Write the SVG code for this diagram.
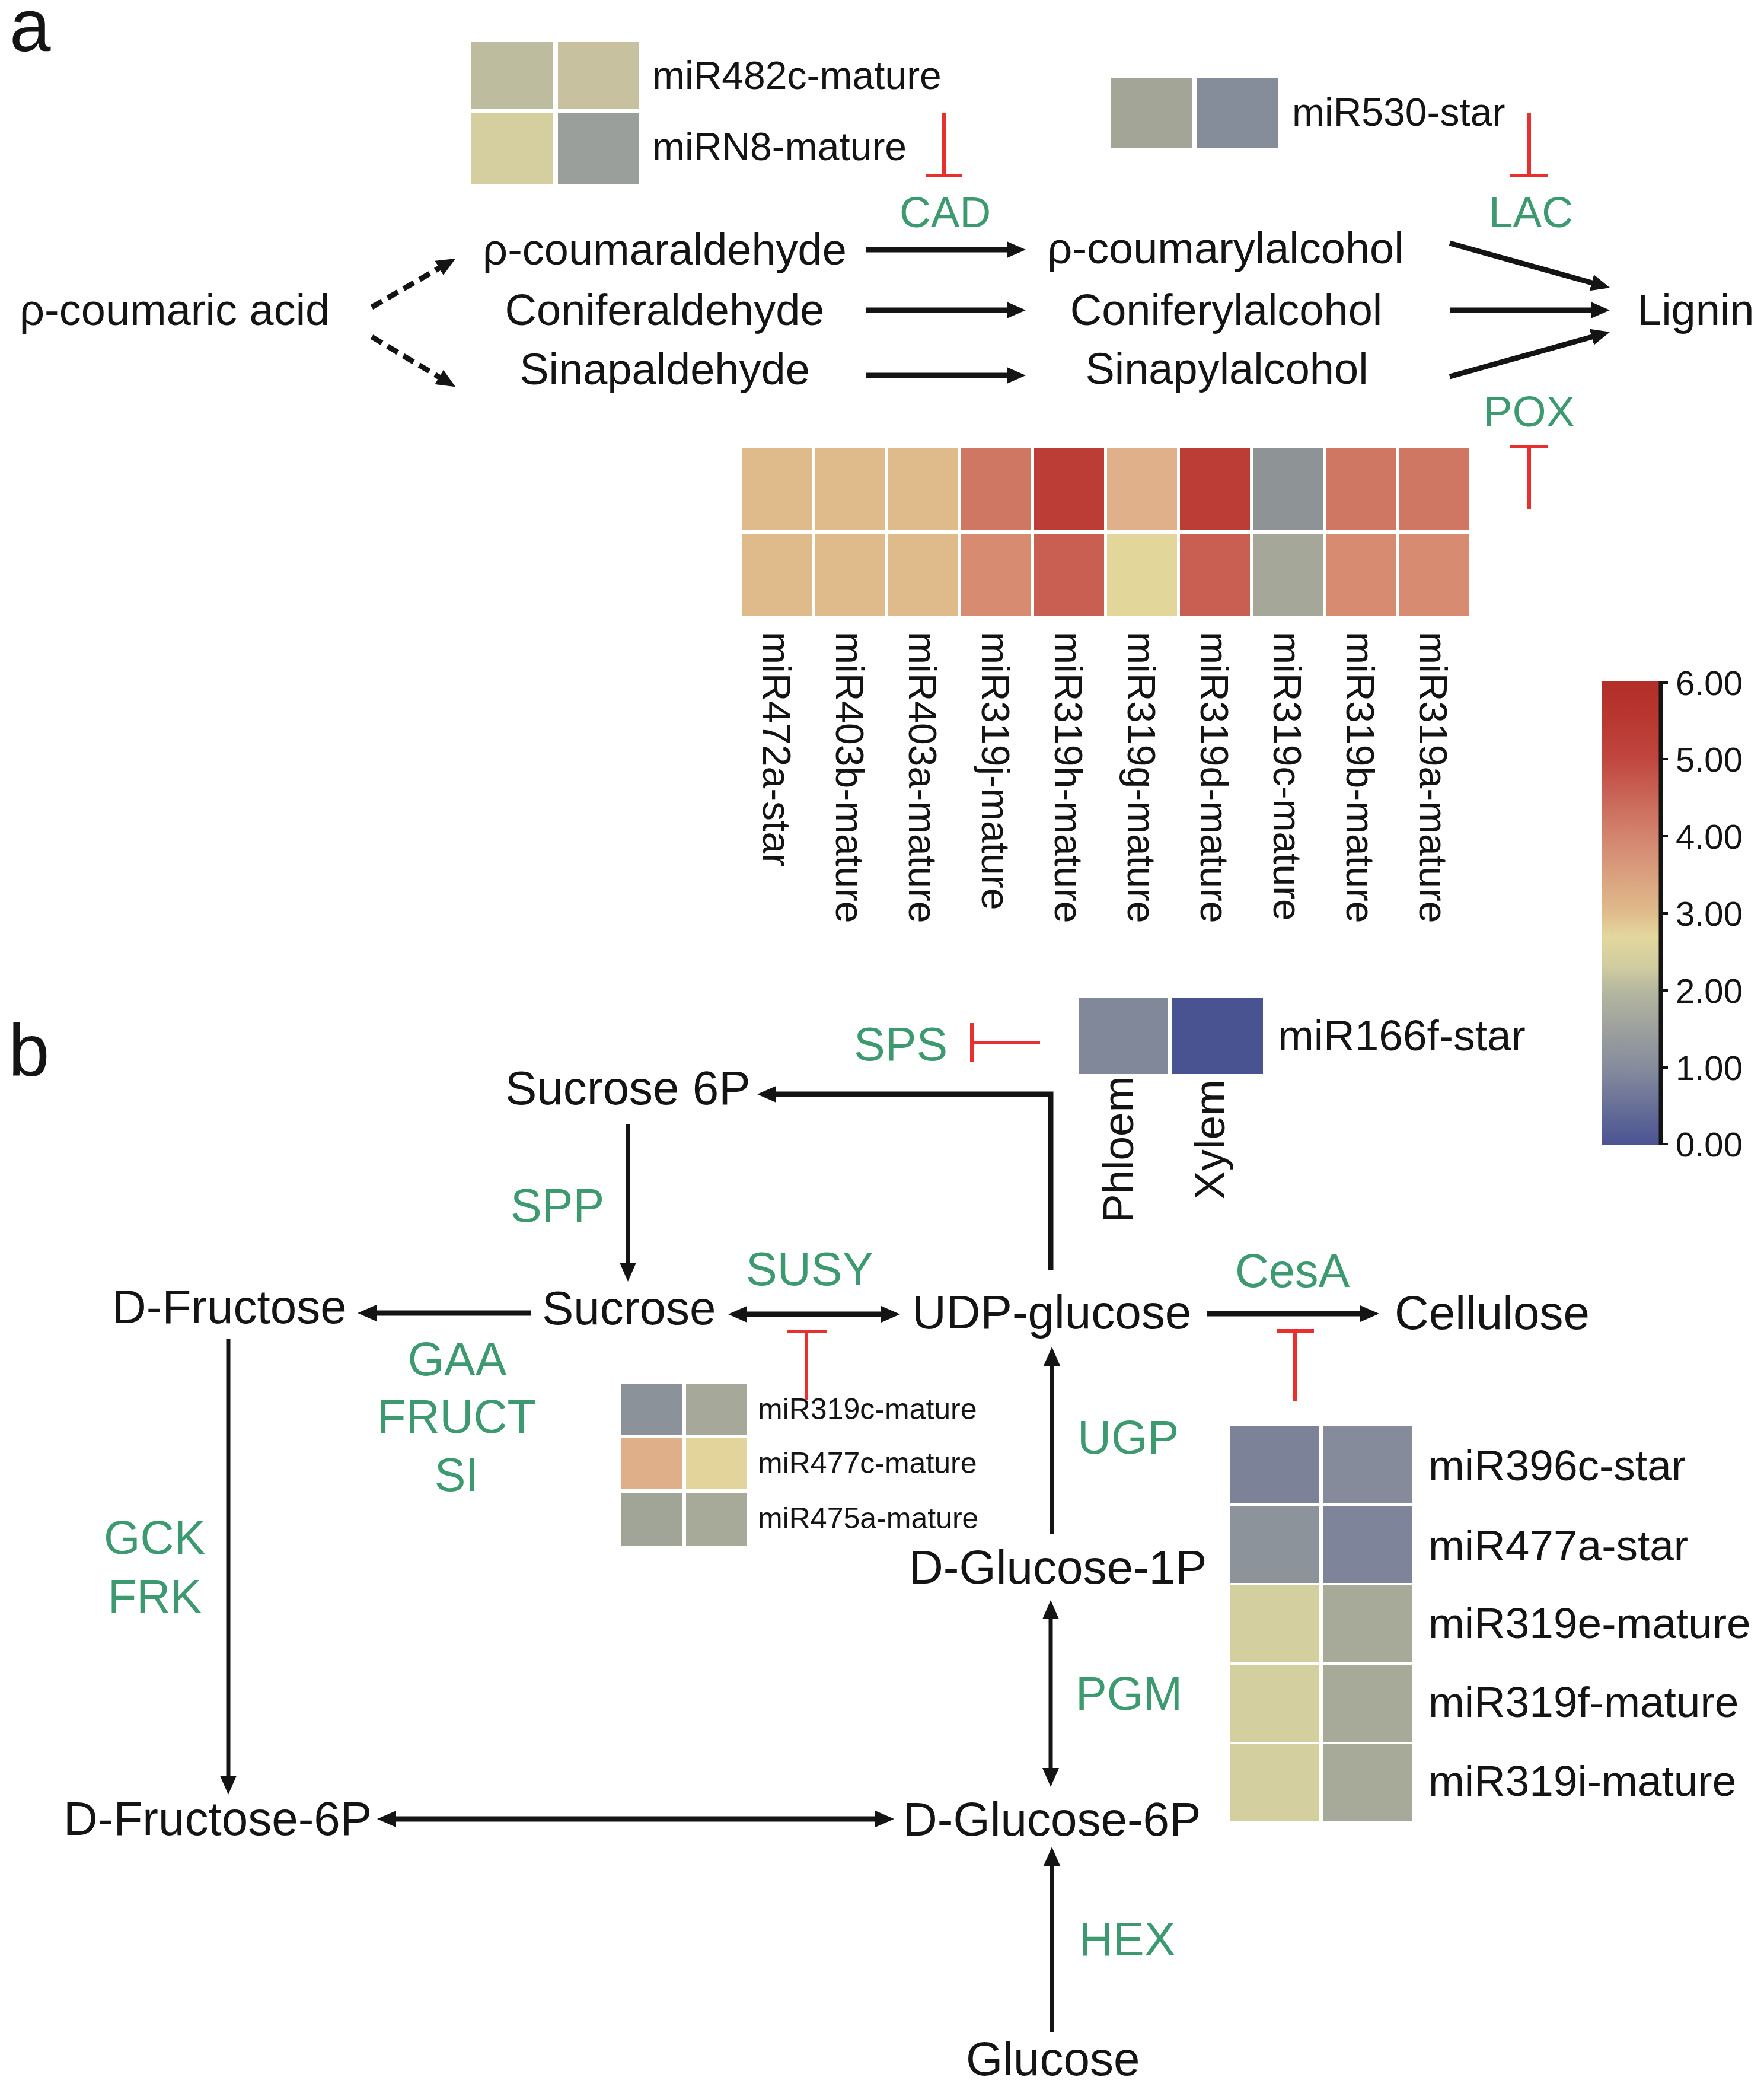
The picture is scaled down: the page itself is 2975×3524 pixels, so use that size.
<svg xmlns="http://www.w3.org/2000/svg" width="2975" height="3524" viewBox="0 0 2975 3524">
<style>
text{font-family:"Liberation Sans",Arial,sans-serif;fill:#141414}
.m{font-size:74px}
.mb{font-size:80px}
.g{fill:#3d9a70}
.ga{font-size:73px}
.gb{font-size:79px}
.lab{font-size:66px}
.labb{font-size:73px}
.sm{font-size:50px}
.cb{font-size:58px}
.pl{font-size:125px}
.ar{stroke:#141414;stroke-width:9;fill:none}
.thin{stroke:#141414;stroke-width:7;fill:none}
.dash{stroke:#141414;stroke-width:9;fill:none;stroke-dasharray:20 11}
.inh{stroke:#e8302e;stroke-width:6;fill:none}
</style>
<defs>
<marker id="ah" markerUnits="userSpaceOnUse" markerWidth="32" markerHeight="28" viewBox="0 0 32 28" refX="12" refY="14" orient="auto-start-reverse"><path d="M0,0 L32,14 L0,28 z" fill="#141414"/></marker>
<linearGradient id="cbar" x1="0" y1="0" x2="0" y2="1">
<stop offset="0" stop-color="#B22E28"/>
<stop offset="0.083" stop-color="#B83830"/>
<stop offset="0.167" stop-color="#C1463F"/>
<stop offset="0.25" stop-color="#C96659"/>
<stop offset="0.333" stop-color="#D3846E"/>
<stop offset="0.417" stop-color="#DAA07E"/>
<stop offset="0.5" stop-color="#E0BC8C"/>
<stop offset="0.55" stop-color="#E3D79E"/>
<stop offset="0.617" stop-color="#CFCC9F"/>
<stop offset="0.667" stop-color="#B5B79F"/>
<stop offset="0.75" stop-color="#9DA09D"/>
<stop offset="0.833" stop-color="#868C9D"/>
<stop offset="0.917" stop-color="#676F97"/>
<stop offset="1" stop-color="#4B5394"/>
</linearGradient>
</defs>
<rect width="2975" height="3524" fill="#ffffff"/>

<g id="panel-labels">
<text class="pl" x="16" y="86">a</text>
<text class="pl" x="14" y="1814">b</text>
</g>

<!-- Panel a -->
<g id="hm-miR482c-miRN8">
<rect x="794" y="70" width="139" height="114" fill="#BDBC9F"/>
<rect x="941" y="70" width="137" height="114" fill="#C8C1A0"/>
<rect x="794" y="191" width="139" height="120" fill="#D5CF9F"/>
<rect x="941" y="191" width="137" height="120" fill="#9A9F9B"/>
<text class="lab" x="1100" y="150">miR482c-mature</text>
<text class="lab" x="1100" y="270">miRN8-mature</text>
</g>
<g id="hm-miR530">
<rect x="1873" y="132" width="138" height="118" fill="#A3A597"/>
<rect x="2019" y="132" width="137" height="118" fill="#868D9A"/>
<text class="lab" x="2179" y="212">miR530-star</text>
</g>
<g id="enz-CAD"><text class="g ga" x="1517" y="383">CAD</text></g>
<g id="enz-LAC"><text class="g ga" x="2511" y="383">LAC</text></g>
<g id="enz-POX"><text class="g ga" x="2502" y="719">POX</text></g>
<g id="n-coumaric"><text class="m" x="33" y="548">ρ-coumaric acid</text></g>
<g id="n-coumaraldehyde"><text class="m" x="1121" y="446" text-anchor="middle">ρ-coumaraldehyde</text></g>
<g id="n-coniferaldehyde"><text class="m" x="1121" y="548" text-anchor="middle">Coniferaldehyde</text></g>
<g id="n-sinapaldehyde"><text class="m" x="1121" y="648" text-anchor="middle">Sinapaldehyde</text></g>
<g id="n-coumarylalcohol"><text class="m" x="2067" y="444" text-anchor="middle">ρ-coumarylalcohol</text></g>
<g id="n-coniferylalcohol"><text class="m" x="2068" y="548" text-anchor="middle">Coniferylalcohol</text></g>
<g id="n-sinapylalcohol"><text class="m" x="2069" y="647" text-anchor="middle">Sinapylalcohol</text></g>
<g id="n-lignin"><text class="m" x="2761" y="548">Lignin</text></g>

<g id="hm-POX">
<rect x="1252" y="756" width="118" height="138" fill="#DFBB8C"/>
<rect x="1375" y="756" width="118" height="138" fill="#DFBB8C"/>
<rect x="1498" y="756" width="118" height="138" fill="#DFBB8C"/>
<rect x="1621" y="756" width="118" height="138" fill="#CF7763"/>
<rect x="1744" y="756" width="118" height="138" fill="#BB3D35"/>
<rect x="1867" y="756" width="118" height="138" fill="#DFB08A"/>
<rect x="1990" y="756" width="118" height="138" fill="#BB3D35"/>
<rect x="2113" y="756" width="118" height="138" fill="#8E9496"/>
<rect x="2236" y="756" width="118" height="138" fill="#CF7763"/>
<rect x="2359" y="756" width="118" height="138" fill="#CF7763"/>
<rect x="1252" y="900" width="118" height="138" fill="#DFBB8C"/>
<rect x="1375" y="900" width="118" height="138" fill="#DFBB8C"/>
<rect x="1498" y="900" width="118" height="138" fill="#DFBB8C"/>
<rect x="1621" y="900" width="118" height="138" fill="#D78B70"/>
<rect x="1744" y="900" width="118" height="138" fill="#C85F52"/>
<rect x="1867" y="900" width="118" height="138" fill="#E3D69B"/>
<rect x="1990" y="900" width="118" height="138" fill="#C85F52"/>
<rect x="2113" y="900" width="118" height="138" fill="#A5A898"/>
<rect x="2236" y="900" width="118" height="138" fill="#D78B70"/>
<rect x="2359" y="900" width="118" height="138" fill="#D78B70"/>
<text class="lab" transform="translate(1287,1065) rotate(90)">miR472a-star</text>
<text class="lab" transform="translate(1410,1065) rotate(90)">miR403b-mature</text>
<text class="lab" transform="translate(1533,1065) rotate(90)">miR403a-mature</text>
<text class="lab" transform="translate(1656,1065) rotate(90)">miR319j-mature</text>
<text class="lab" transform="translate(1779,1065) rotate(90)">miR319h-mature</text>
<text class="lab" transform="translate(1902,1065) rotate(90)">miR319g-mature</text>
<text class="lab" transform="translate(2025,1065) rotate(90)">miR319d-mature</text>
<text class="lab" transform="translate(2148,1065) rotate(90)">miR319c-mature</text>
<text class="lab" transform="translate(2271,1065) rotate(90)">miR319b-mature</text>
<text class="lab" transform="translate(2394,1065) rotate(90)">miR319a-mature</text>
</g>

<g id="colorbar">
<rect x="2702" y="1149" width="96" height="782" fill="url(#cbar)"/>
<line x1="2801" y1="1149" x2="2801" y2="1931" stroke="#141414" stroke-width="7"/>
<g stroke="#141414" stroke-width="4">
<line x1="2801" y1="1151" x2="2813" y2="1151"/>
<line x1="2801" y1="1280" x2="2813" y2="1280"/>
<line x1="2801" y1="1410" x2="2813" y2="1410"/>
<line x1="2801" y1="1540" x2="2813" y2="1540"/>
<line x1="2801" y1="1670" x2="2813" y2="1670"/>
<line x1="2801" y1="1800" x2="2813" y2="1800"/>
<line x1="2801" y1="1929" x2="2813" y2="1929"/>
</g>
<text class="cb" x="2826" y="1172">6.00</text>
<text class="cb" x="2826" y="1301">5.00</text>
<text class="cb" x="2826" y="1431">4.00</text>
<text class="cb" x="2826" y="1561">3.00</text>
<text class="cb" x="2826" y="1691">2.00</text>
<text class="cb" x="2826" y="1821">1.00</text>
<text class="cb" x="2826" y="1950">0.00</text>
</g>

<!-- Panel b -->
<g id="n-sucrose6p"><text class="mb" x="852" y="1862">Sucrose 6P</text></g>
<g id="enz-SPS"><text class="g gb" x="1440" y="1788">SPS</text></g>
<g id="hm-miR166f">
<rect x="1820" y="1682" width="150" height="129" fill="#818899"/>
<rect x="1977" y="1682" width="153" height="129" fill="#4A5391"/>
<text class="labb" x="2155" y="1771">miR166f-star</text>
<text class="labb" transform="translate(1911,2062) rotate(-90)">Phloem</text>
<text class="labb" transform="translate(2065,2023) rotate(-90)">Xylem</text>
</g>
<g id="enz-SPP"><text class="g gb" x="861" y="2060">SPP</text></g>
<g id="enz-SUSY"><text class="g gb" x="1258" y="2167">SUSY</text></g>
<g id="enz-CesA"><text class="g gb" x="2083" y="2170">CesA</text></g>
<g id="n-dfructose"><text class="mb" x="189" y="2231">D-Fructose</text></g>
<g id="n-sucrose"><text class="mb" x="914" y="2233">Sucrose</text></g>
<g id="n-udpglucose"><text class="mb" x="1538" y="2240">UDP-glucose</text></g>
<g id="n-cellulose"><text class="mb" x="2352" y="2241">Cellulose</text></g>
<g id="enz-GAA"><text class="g gb" x="771" y="2319" text-anchor="middle">GAA</text><text class="g gb" x="770" y="2416" text-anchor="middle">FRUCT</text><text class="g gb" x="770" y="2514" text-anchor="middle">SI</text></g>
<g id="hm-SUSY">
<rect x="1047" y="2333" width="103" height="86" fill="#8C9299"/>
<rect x="1157" y="2333" width="103" height="86" fill="#A6A899"/>
<rect x="1047" y="2425" width="103" height="86" fill="#DEAF88"/>
<rect x="1157" y="2425" width="103" height="86" fill="#E3D49C"/>
<rect x="1047" y="2517" width="103" height="89" fill="#A0A597"/>
<rect x="1157" y="2517" width="103" height="89" fill="#A7AA99"/>
<text class="sm" x="1278" y="2393">miR319c-mature</text>
<text class="sm" x="1278" y="2484">miR477c-mature</text>
<text class="sm" x="1278" y="2577">miR475a-mature</text>
</g>
<g id="enz-UGP"><text class="g gb" x="1817" y="2451">UGP</text></g>
<g id="enz-GCK"><text class="g gb" x="175" y="2620">GCK</text><text class="g gb" x="182" y="2719">FRK</text></g>
<g id="n-dglucose1p"><text class="mb" x="1533" y="2670">D-Glucose-1P</text></g>
<g id="enz-PGM"><text class="g gb" x="1814" y="2883">PGM</text></g>
<g id="n-dfructose6p"><text class="mb" x="107" y="3094">D-Fructose-6P</text></g>
<g id="n-dglucose6p"><text class="mb" x="1523" y="3095">D-Glucose-6P</text></g>
<g id="enz-HEX"><text class="g gb" x="1820" y="3297">HEX</text></g>
<g id="n-glucose"><text class="mb" x="1629" y="3499">Glucose</text></g>
<g id="hm-CesA">
<rect x="2075" y="2405" width="149" height="130" fill="#7C8298"/>
<rect x="2232" y="2405" width="150" height="130" fill="#858B9B"/>
<rect x="2075" y="2539" width="149" height="130" fill="#8D939B"/>
<rect x="2232" y="2539" width="150" height="130" fill="#7E859B"/>
<rect x="2075" y="2673" width="149" height="130" fill="#D4CF9E"/>
<rect x="2232" y="2673" width="150" height="130" fill="#A8AA99"/>
<rect x="2075" y="2807" width="149" height="130" fill="#D4CF9E"/>
<rect x="2232" y="2807" width="150" height="130" fill="#A8AA99"/>
<rect x="2075" y="2941" width="149" height="130" fill="#D4CF9E"/>
<rect x="2232" y="2941" width="150" height="130" fill="#A8AA99"/>
<text class="labb" x="2409" y="2496">miR396c-star</text>
<text class="labb" x="2409" y="2631">miR477a-star</text>
<text class="labb" x="2409" y="2762">miR319e-mature</text>
<text class="labb" x="2409" y="2895">miR319f-mature</text>
<text class="labb" x="2409" y="3028">miR319i-mature</text>
</g>

<g id="connectors">
<!-- panel a -->
<line class="dash" x1="627" y1="518" x2="751" y2="446" marker-end="url(#ah)"/>
<line class="dash" x1="627" y1="568" x2="751" y2="642" marker-end="url(#ah)"/>
<line class="ar" x1="1460" y1="421" x2="1710" y2="421" marker-end="url(#ah)"/>
<line class="ar" x1="1460" y1="523" x2="1710" y2="523" marker-end="url(#ah)"/>
<line class="ar" x1="1460" y1="633" x2="1710" y2="633" marker-end="url(#ah)"/>
<line class="ar" x1="2445" y1="410" x2="2696" y2="480" marker-end="url(#ah)"/>
<line class="ar" x1="2445" y1="523" x2="2695" y2="523" marker-end="url(#ah)"/>
<line class="ar" x1="2445" y1="635" x2="2696" y2="565" marker-end="url(#ah)"/>
<!-- panel b -->
<polyline class="ar" points="1772,2141 1772,1845 1297,1845" marker-end="url(#ah)"/>
<line class="thin" x1="1059" y1="1896" x2="1059" y2="2141" marker-end="url(#ah)"/>
<line class="ar" x1="895" y1="2214" x2="623" y2="2214" marker-end="url(#ah)"/>
<line class="ar" x1="1248" y1="2216" x2="1498" y2="2216" marker-start="url(#ah)" marker-end="url(#ah)"/>
<line class="ar" x1="2035" y1="2215" x2="2306" y2="2215" marker-end="url(#ah)"/>
<line class="thin" x1="385" y1="2258" x2="385" y2="3006" marker-end="url(#ah)"/>
<line class="ar" x1="656" y1="3067" x2="1488" y2="3067" marker-start="url(#ah)" marker-end="url(#ah)"/>
<line class="thin" x1="1774" y1="2586" x2="1774" y2="2291" marker-end="url(#ah)"/>
<line class="thin" x1="1772" y1="2718" x2="1772" y2="2993" marker-start="url(#ah)" marker-end="url(#ah)"/>
<line class="thin" x1="1774" y1="3427" x2="1774" y2="3134" marker-end="url(#ah)"/>
<!-- inhibitions -->
<path class="inh" d="M1592,191 V296 M1561,296 H1622"/>
<path class="inh" d="M2579,190 V296 M2547,296 H2610"/>
<path class="inh" d="M2579,858 V753 M2547,753 H2610"/>
<path class="inh" d="M1754,1758 H1639 M1639,1725 V1791"/>
<path class="inh" d="M1360,2361 V2245 M1327,2245 H1394"/>
<path class="inh" d="M2184,2362 V2244 M2153,2244 H2216"/>
</g>
</svg>
